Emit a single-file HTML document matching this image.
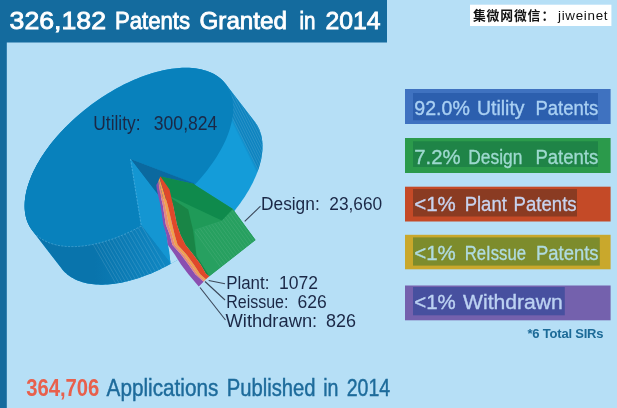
<!DOCTYPE html>
<html lang="en"><head><meta charset="utf-8"><title>326,182 Patents Granted in 2014</title>
<style>
html,body{margin:0;padding:0;background:#b6dff6;}
body{width:617px;height:408px;overflow:hidden;}
svg{display:block;font-family:"Liberation Sans","Noto Sans CJK SC",sans-serif;}
</style></head><body>
<svg width="617" height="408" viewBox="0 0 617 408">
<rect x="0" y="0" width="617" height="408" fill="#b6dff6"/>
<rect x="0" y="0" width="6.8" height="408" fill="#146b9e"/>
<rect x="0" y="0" width="387" height="42.5" fill="#146b9e"/>
<text y="29.3" font-size="24.2" fill="#ffffff" font-weight="normal" stroke="#ffffff" stroke-width="0.85"><tspan x="9.6" textLength="96.4" lengthAdjust="spacingAndGlyphs">326,182</tspan> <tspan x="115" textLength="75" lengthAdjust="spacingAndGlyphs">Patents</tspan> <tspan x="199.5" textLength="87.5" lengthAdjust="spacingAndGlyphs">Granted</tspan> <tspan x="299.5" textLength="16.0" lengthAdjust="spacingAndGlyphs">in</tspan> <tspan x="325.5" textLength="55.0" lengthAdjust="spacingAndGlyphs">2014</tspan></text>
<rect x="470" y="4.7" width="141.4" height="21.3" fill="#ffffff"/>
<text y="20.1" font-size="12.8" font-weight="700" fill="#111111"><tspan x="472.9" textLength="67.5" lengthAdjust="spacing">集微网微信</tspan><tspan x="541.5">：</tspan><tspan x="558" y="19.6" font-size="13.4" font-weight="normal" textLength="49.5" lengthAdjust="spacing">jiweinet</tspan></text>
<defs><clipPath id="cs"><path d="M24.63,205.11 L24.69,203.12 L24.83,201.09 L25.03,199.04 L25.31,196.96 L25.66,194.84 L26.08,192.71 L26.57,190.55 L27.13,188.36 L27.76,186.16 L28.46,183.93 L29.23,181.69 L30.07,179.43 L30.97,177.15 L31.94,174.86 L32.98,172.56 L34.08,170.25 L35.25,167.93 L36.48,165.60 L37.78,163.27 L39.14,160.93 L40.56,158.59 L42.04,156.25 L43.58,153.91 L45.18,151.57 L46.83,149.23 L48.54,146.90 L50.31,144.58 L52.13,142.27 L54.01,139.96 L55.93,137.67 L57.91,135.39 L59.93,133.13 L62.00,130.88 L64.12,128.66 L66.28,126.45 L68.48,124.26 L70.73,122.09 L73.01,119.95 L75.34,117.84 L77.70,115.75 L80.09,113.69 L82.52,111.66 L84.98,109.66 L87.47,107.69 L89.99,105.76 L92.54,103.86 L95.11,102.00 L97.70,100.17 L100.32,98.39 L102.95,96.65 L105.61,94.94 L108.28,93.28 L110.96,91.67 L113.65,90.10 L116.36,88.57 L119.07,87.09 L121.79,85.66 L124.52,84.28 L127.25,82.95 L129.98,81.67 L132.71,80.44 L135.43,79.27 L138.16,78.14 L140.87,77.08 L143.58,76.06 L146.28,75.11 L148.96,74.20 L151.63,73.36 L154.29,72.57 L156.93,71.84 L159.55,71.17 L162.15,70.56 L164.72,70.01 L167.27,69.52 L169.80,69.09 L172.30,68.71 L174.76,68.40 L177.20,68.15 L179.60,67.96 L181.97,67.83 L184.30,67.77 L186.59,67.76 L188.85,67.82 L191.06,67.93 L193.23,68.11 L195.36,68.35 L197.44,68.65 L199.47,69.01 L201.46,69.43 L203.39,69.91 L205.28,70.45 L207.11,71.06 L208.89,71.71 L210.61,72.43 L212.28,73.21 L213.89,74.04 L215.44,74.93 L216.94,75.88 L218.37,76.88 L219.74,77.94 L221.05,79.05 L222.30,80.22 L223.48,81.44 L224.60,82.71 L225.65,84.03 L254.95,122.03 L255.93,123.40 L256.85,124.82 L257.70,126.29 L258.48,127.81 L259.20,129.37 L259.84,130.98 L260.42,132.63 L260.92,134.33 L261.36,136.06 L261.72,137.84 L262.01,139.65 L262.23,141.51 L262.39,143.40 L262.46,145.33 L262.47,147.29 L262.41,149.28 L262.27,151.31 L262.07,153.36 L261.79,155.44 L261.44,157.56 L261.02,159.69 L260.53,161.85 L259.97,164.04 L259.34,166.24 L258.64,168.47 L257.87,170.71 L257.03,172.97 L256.13,175.25 L255.16,177.54 L254.12,179.84 L253.02,182.15 L251.85,184.47 L250.62,186.80 L249.32,189.13 L247.96,191.47 L246.54,193.81 L245.06,196.15 L243.52,198.49 L241.92,200.83 L240.27,203.17 L238.56,205.50 L236.79,207.82 L234.97,210.13 L233.09,212.44 L231.17,214.73 L229.19,217.01 L227.17,219.27 L225.10,221.52 L222.98,223.74 L220.82,225.95 L218.62,228.14 L216.37,230.31 L214.09,232.45 L211.76,234.56 L209.40,236.65 L207.01,238.71 L204.58,240.74 L202.12,242.74 L199.63,244.71 L197.11,246.64 L194.56,248.54 L191.99,250.40 L189.40,252.23 L186.78,254.01 L184.15,255.75 L181.49,257.46 L178.82,259.12 L176.14,260.73 L173.45,262.30 L170.74,263.83 L168.03,265.31 L165.31,266.74 L162.58,268.12 L159.85,269.45 L157.12,270.73 L154.39,271.96 L151.67,273.13 L148.94,274.26 L146.23,275.32 L143.52,276.34 L140.82,277.29 L138.14,278.20 L135.47,279.04 L132.81,279.83 L130.17,280.56 L127.55,281.23 L124.95,281.84 L122.38,282.39 L119.83,282.88 L117.30,283.31 L114.80,283.69 L112.34,284.00 L109.90,284.25 L107.50,284.44 L105.13,284.57 L102.80,284.63 L100.51,284.64 L98.25,284.58 L96.04,284.47 L93.87,284.29 L91.74,284.05 L89.66,283.75 L87.63,283.39 L85.64,282.97 L83.71,282.49 L81.82,281.95 L79.99,281.34 L78.21,280.69 L76.49,279.97 L74.82,279.19 L73.21,278.36 L71.66,277.47 L70.16,276.52 L68.73,275.52 L67.36,274.46 L66.05,273.35 L64.80,272.18 L63.62,270.96 L62.50,269.69 L61.45,268.37 L32.15,230.37 L31.17,229.00 L30.25,227.58 L29.40,226.11 L28.62,224.59 L27.90,223.03 L27.26,221.42 L26.68,219.77 L26.18,218.07 L25.74,216.34 L25.38,214.56 L25.09,212.75 L24.87,210.89 L24.71,209.00 L24.64,207.07Z"/></clipPath><clipPath id="cb"><path d="M-152.0,-155.7 L434.0,604.3 L-500,700 L-500,-300Z"/></clipPath><clipPath id="cg"><path d="M232.80,208.90 L255.50,240.00 L209.30,276.30 L196.50,256.00 L194.40,229.50 L221.80,220.60Z"/></clipPath><linearGradient id="gb" gradientUnits="userSpaceOnUse" x1="95" y1="0" x2="172" y2="0"><stop offset="0" stop-color="#0974ac"/><stop offset="1" stop-color="#1088c4"/></linearGradient><linearGradient id="gw" gradientUnits="userSpaceOnUse" x1="228.2" y1="115.1" x2="232.7" y2="112.9"><stop offset="0" stop-color="#0e84c0" stop-opacity="0"/><stop offset="0.7" stop-color="#0e84c0" stop-opacity="1"/></linearGradient></defs>
<path d="M24.63,205.11 L24.69,203.12 L24.83,201.09 L25.03,199.04 L25.31,196.96 L25.66,194.84 L26.08,192.71 L26.57,190.55 L27.13,188.36 L27.76,186.16 L28.46,183.93 L29.23,181.69 L30.07,179.43 L30.97,177.15 L31.94,174.86 L32.98,172.56 L34.08,170.25 L35.25,167.93 L36.48,165.60 L37.78,163.27 L39.14,160.93 L40.56,158.59 L42.04,156.25 L43.58,153.91 L45.18,151.57 L46.83,149.23 L48.54,146.90 L50.31,144.58 L52.13,142.27 L54.01,139.96 L55.93,137.67 L57.91,135.39 L59.93,133.13 L62.00,130.88 L64.12,128.66 L66.28,126.45 L68.48,124.26 L70.73,122.09 L73.01,119.95 L75.34,117.84 L77.70,115.75 L80.09,113.69 L82.52,111.66 L84.98,109.66 L87.47,107.69 L89.99,105.76 L92.54,103.86 L95.11,102.00 L97.70,100.17 L100.32,98.39 L102.95,96.65 L105.61,94.94 L108.28,93.28 L110.96,91.67 L113.65,90.10 L116.36,88.57 L119.07,87.09 L121.79,85.66 L124.52,84.28 L127.25,82.95 L129.98,81.67 L132.71,80.44 L135.43,79.27 L138.16,78.14 L140.87,77.08 L143.58,76.06 L146.28,75.11 L148.96,74.20 L151.63,73.36 L154.29,72.57 L156.93,71.84 L159.55,71.17 L162.15,70.56 L164.72,70.01 L167.27,69.52 L169.80,69.09 L172.30,68.71 L174.76,68.40 L177.20,68.15 L179.60,67.96 L181.97,67.83 L184.30,67.77 L186.59,67.76 L188.85,67.82 L191.06,67.93 L193.23,68.11 L195.36,68.35 L197.44,68.65 L199.47,69.01 L201.46,69.43 L203.39,69.91 L205.28,70.45 L207.11,71.06 L208.89,71.71 L210.61,72.43 L212.28,73.21 L213.89,74.04 L215.44,74.93 L216.94,75.88 L218.37,76.88 L219.74,77.94 L221.05,79.05 L222.30,80.22 L223.48,81.44 L224.60,82.71 L225.65,84.03 L254.95,122.03 L255.93,123.40 L256.85,124.82 L257.70,126.29 L258.48,127.81 L259.20,129.37 L259.84,130.98 L260.42,132.63 L260.92,134.33 L261.36,136.06 L261.72,137.84 L262.01,139.65 L262.23,141.51 L262.39,143.40 L262.46,145.33 L262.47,147.29 L262.41,149.28 L262.27,151.31 L262.07,153.36 L261.79,155.44 L261.44,157.56 L261.02,159.69 L260.53,161.85 L259.97,164.04 L259.34,166.24 L258.64,168.47 L257.87,170.71 L257.03,172.97 L256.13,175.25 L255.16,177.54 L254.12,179.84 L253.02,182.15 L251.85,184.47 L250.62,186.80 L249.32,189.13 L247.96,191.47 L246.54,193.81 L245.06,196.15 L243.52,198.49 L241.92,200.83 L240.27,203.17 L238.56,205.50 L236.79,207.82 L234.97,210.13 L233.09,212.44 L231.17,214.73 L229.19,217.01 L227.17,219.27 L225.10,221.52 L222.98,223.74 L220.82,225.95 L218.62,228.14 L216.37,230.31 L214.09,232.45 L211.76,234.56 L209.40,236.65 L207.01,238.71 L204.58,240.74 L202.12,242.74 L199.63,244.71 L197.11,246.64 L194.56,248.54 L191.99,250.40 L189.40,252.23 L186.78,254.01 L184.15,255.75 L181.49,257.46 L178.82,259.12 L176.14,260.73 L173.45,262.30 L170.74,263.83 L168.03,265.31 L165.31,266.74 L162.58,268.12 L159.85,269.45 L157.12,270.73 L154.39,271.96 L151.67,273.13 L148.94,274.26 L146.23,275.32 L143.52,276.34 L140.82,277.29 L138.14,278.20 L135.47,279.04 L132.81,279.83 L130.17,280.56 L127.55,281.23 L124.95,281.84 L122.38,282.39 L119.83,282.88 L117.30,283.31 L114.80,283.69 L112.34,284.00 L109.90,284.25 L107.50,284.44 L105.13,284.57 L102.80,284.63 L100.51,284.64 L98.25,284.58 L96.04,284.47 L93.87,284.29 L91.74,284.05 L89.66,283.75 L87.63,283.39 L85.64,282.97 L83.71,282.49 L81.82,281.95 L79.99,281.34 L78.21,280.69 L76.49,279.97 L74.82,279.19 L73.21,278.36 L71.66,277.47 L70.16,276.52 L68.73,275.52 L67.36,274.46 L66.05,273.35 L64.80,272.18 L63.62,270.96 L62.50,269.69 L61.45,268.37 L32.15,230.37 L31.17,229.00 L30.25,227.58 L29.40,226.11 L28.62,224.59 L27.90,223.03 L27.26,221.42 L26.68,219.77 L26.18,218.07 L25.74,216.34 L25.38,214.56 L25.09,212.75 L24.87,210.89 L24.71,209.00 L24.64,207.07Z" fill="#149cd9"/>
<path d="M24.63,205.11 L24.69,203.12 L24.83,201.09 L25.03,199.04 L25.31,196.96 L25.66,194.84 L26.08,192.71 L26.57,190.55 L27.13,188.36 L27.76,186.16 L28.46,183.93 L29.23,181.69 L30.07,179.43 L30.97,177.15 L31.94,174.86 L32.98,172.56 L34.08,170.25 L35.25,167.93 L36.48,165.60 L37.78,163.27 L39.14,160.93 L40.56,158.59 L42.04,156.25 L43.58,153.91 L45.18,151.57 L46.83,149.23 L48.54,146.90 L50.31,144.58 L52.13,142.27 L54.01,139.96 L55.93,137.67 L57.91,135.39 L59.93,133.13 L62.00,130.88 L64.12,128.66 L66.28,126.45 L68.48,124.26 L70.73,122.09 L73.01,119.95 L75.34,117.84 L77.70,115.75 L80.09,113.69 L82.52,111.66 L84.98,109.66 L87.47,107.69 L89.99,105.76 L92.54,103.86 L95.11,102.00 L97.70,100.17 L100.32,98.39 L102.95,96.65 L105.61,94.94 L108.28,93.28 L110.96,91.67 L113.65,90.10 L116.36,88.57 L119.07,87.09 L121.79,85.66 L124.52,84.28 L127.25,82.95 L129.98,81.67 L132.71,80.44 L135.43,79.27 L138.16,78.14 L140.87,77.08 L143.58,76.06 L146.28,75.11 L148.96,74.20 L151.63,73.36 L154.29,72.57 L156.93,71.84 L159.55,71.17 L162.15,70.56 L164.72,70.01 L167.27,69.52 L169.80,69.09 L172.30,68.71 L174.76,68.40 L177.20,68.15 L179.60,67.96 L181.97,67.83 L184.30,67.77 L186.59,67.76 L188.85,67.82 L191.06,67.93 L193.23,68.11 L195.36,68.35 L197.44,68.65 L199.47,69.01 L201.46,69.43 L203.39,69.91 L205.28,70.45 L207.11,71.06 L208.89,71.71 L210.61,72.43 L212.28,73.21 L213.89,74.04 L215.44,74.93 L216.94,75.88 L218.37,76.88 L219.74,77.94 L221.05,79.05 L222.30,80.22 L223.48,81.44 L224.60,82.71 L225.65,84.03 L254.95,122.03 L255.93,123.40 L256.85,124.82 L257.70,126.29 L258.48,127.81 L259.20,129.37 L259.84,130.98 L260.42,132.63 L260.92,134.33 L261.36,136.06 L261.72,137.84 L262.01,139.65 L262.23,141.51 L262.39,143.40 L262.46,145.33 L262.47,147.29 L262.41,149.28 L262.27,151.31 L262.07,153.36 L261.79,155.44 L261.44,157.56 L261.02,159.69 L260.53,161.85 L259.97,164.04 L259.34,166.24 L258.64,168.47 L257.87,170.71 L257.03,172.97 L256.13,175.25 L255.16,177.54 L254.12,179.84 L253.02,182.15 L251.85,184.47 L250.62,186.80 L249.32,189.13 L247.96,191.47 L246.54,193.81 L245.06,196.15 L243.52,198.49 L241.92,200.83 L240.27,203.17 L238.56,205.50 L236.79,207.82 L234.97,210.13 L233.09,212.44 L231.17,214.73 L229.19,217.01 L227.17,219.27 L225.10,221.52 L222.98,223.74 L220.82,225.95 L218.62,228.14 L216.37,230.31 L214.09,232.45 L211.76,234.56 L209.40,236.65 L207.01,238.71 L204.58,240.74 L202.12,242.74 L199.63,244.71 L197.11,246.64 L194.56,248.54 L191.99,250.40 L189.40,252.23 L186.78,254.01 L184.15,255.75 L181.49,257.46 L178.82,259.12 L176.14,260.73 L173.45,262.30 L170.74,263.83 L168.03,265.31 L165.31,266.74 L162.58,268.12 L159.85,269.45 L157.12,270.73 L154.39,271.96 L151.67,273.13 L148.94,274.26 L146.23,275.32 L143.52,276.34 L140.82,277.29 L138.14,278.20 L135.47,279.04 L132.81,279.83 L130.17,280.56 L127.55,281.23 L124.95,281.84 L122.38,282.39 L119.83,282.88 L117.30,283.31 L114.80,283.69 L112.34,284.00 L109.90,284.25 L107.50,284.44 L105.13,284.57 L102.80,284.63 L100.51,284.64 L98.25,284.58 L96.04,284.47 L93.87,284.29 L91.74,284.05 L89.66,283.75 L87.63,283.39 L85.64,282.97 L83.71,282.49 L81.82,281.95 L79.99,281.34 L78.21,280.69 L76.49,279.97 L74.82,279.19 L73.21,278.36 L71.66,277.47 L70.16,276.52 L68.73,275.52 L67.36,274.46 L66.05,273.35 L64.80,272.18 L63.62,270.96 L62.50,269.69 L61.45,268.37 L32.15,230.37 L31.17,229.00 L30.25,227.58 L29.40,226.11 L28.62,224.59 L27.90,223.03 L27.26,221.42 L26.68,219.77 L26.18,218.07 L25.74,216.34 L25.38,214.56 L25.09,212.75 L24.87,210.89 L24.71,209.00 L24.64,207.07Z" fill="url(#gw)"/>
<g clip-path="url(#cs)"><path d="M208.4,70.0 l53.6,107.3 M211.0,70.0 l53.6,107.3 M213.6,70.0 l53.6,107.3 M216.1,70.0 l53.6,107.3 M218.7,70.0 l53.6,107.3 M221.3,70.0 l53.6,107.3 M223.9,70.0 l53.6,107.3 M226.4,70.0 l53.6,107.3 M229.0,70.0 l53.6,107.3 M231.6,70.0 l53.6,107.3" stroke="#ffffff" stroke-opacity="0.2" stroke-width="0.6" fill="none"/></g>
<path d="M24.63,205.11 L24.69,203.12 L24.83,201.09 L25.03,199.04 L25.31,196.96 L25.66,194.84 L26.08,192.71 L26.57,190.55 L27.13,188.36 L27.76,186.16 L28.46,183.93 L29.23,181.69 L30.07,179.43 L30.97,177.15 L31.94,174.86 L32.98,172.56 L34.08,170.25 L35.25,167.93 L36.48,165.60 L37.78,163.27 L39.14,160.93 L40.56,158.59 L42.04,156.25 L43.58,153.91 L45.18,151.57 L46.83,149.23 L48.54,146.90 L50.31,144.58 L52.13,142.27 L54.01,139.96 L55.93,137.67 L57.91,135.39 L59.93,133.13 L62.00,130.88 L64.12,128.66 L66.28,126.45 L68.48,124.26 L70.73,122.09 L73.01,119.95 L75.34,117.84 L77.70,115.75 L80.09,113.69 L82.52,111.66 L84.98,109.66 L87.47,107.69 L89.99,105.76 L92.54,103.86 L95.11,102.00 L97.70,100.17 L100.32,98.39 L102.95,96.65 L105.61,94.94 L108.28,93.28 L110.96,91.67 L113.65,90.10 L116.36,88.57 L119.07,87.09 L121.79,85.66 L124.52,84.28 L127.25,82.95 L129.98,81.67 L132.71,80.44 L135.43,79.27 L138.16,78.14 L140.87,77.08 L143.58,76.06 L146.28,75.11 L148.96,74.20 L151.63,73.36 L154.29,72.57 L156.93,71.84 L159.55,71.17 L162.15,70.56 L164.72,70.01 L167.27,69.52 L169.80,69.09 L172.30,68.71 L174.76,68.40 L177.20,68.15 L179.60,67.96 L181.97,67.83 L184.30,67.77 L186.59,67.76 L188.85,67.82 L191.06,67.93 L193.23,68.11 L195.36,68.35 L197.44,68.65 L199.47,69.01 L201.46,69.43 L203.39,69.91 L205.28,70.45 L207.11,71.06 L208.89,71.71 L210.61,72.43 L212.28,73.21 L213.89,74.04 L215.44,74.93 L216.94,75.88 L218.37,76.88 L219.74,77.94 L221.05,79.05 L222.30,80.22 L223.48,81.44 L224.60,82.71 L225.65,84.03 L254.95,122.03 L255.93,123.40 L256.85,124.82 L257.70,126.29 L258.48,127.81 L259.20,129.37 L259.84,130.98 L260.42,132.63 L260.92,134.33 L261.36,136.06 L261.72,137.84 L262.01,139.65 L262.23,141.51 L262.39,143.40 L262.46,145.33 L262.47,147.29 L262.41,149.28 L262.27,151.31 L262.07,153.36 L261.79,155.44 L261.44,157.56 L261.02,159.69 L260.53,161.85 L259.97,164.04 L259.34,166.24 L258.64,168.47 L257.87,170.71 L257.03,172.97 L256.13,175.25 L255.16,177.54 L254.12,179.84 L253.02,182.15 L251.85,184.47 L250.62,186.80 L249.32,189.13 L247.96,191.47 L246.54,193.81 L245.06,196.15 L243.52,198.49 L241.92,200.83 L240.27,203.17 L238.56,205.50 L236.79,207.82 L234.97,210.13 L233.09,212.44 L231.17,214.73 L229.19,217.01 L227.17,219.27 L225.10,221.52 L222.98,223.74 L220.82,225.95 L218.62,228.14 L216.37,230.31 L214.09,232.45 L211.76,234.56 L209.40,236.65 L207.01,238.71 L204.58,240.74 L202.12,242.74 L199.63,244.71 L197.11,246.64 L194.56,248.54 L191.99,250.40 L189.40,252.23 L186.78,254.01 L184.15,255.75 L181.49,257.46 L178.82,259.12 L176.14,260.73 L173.45,262.30 L170.74,263.83 L168.03,265.31 L165.31,266.74 L162.58,268.12 L159.85,269.45 L157.12,270.73 L154.39,271.96 L151.67,273.13 L148.94,274.26 L146.23,275.32 L143.52,276.34 L140.82,277.29 L138.14,278.20 L135.47,279.04 L132.81,279.83 L130.17,280.56 L127.55,281.23 L124.95,281.84 L122.38,282.39 L119.83,282.88 L117.30,283.31 L114.80,283.69 L112.34,284.00 L109.90,284.25 L107.50,284.44 L105.13,284.57 L102.80,284.63 L100.51,284.64 L98.25,284.58 L96.04,284.47 L93.87,284.29 L91.74,284.05 L89.66,283.75 L87.63,283.39 L85.64,282.97 L83.71,282.49 L81.82,281.95 L79.99,281.34 L78.21,280.69 L76.49,279.97 L74.82,279.19 L73.21,278.36 L71.66,277.47 L70.16,276.52 L68.73,275.52 L67.36,274.46 L66.05,273.35 L64.80,272.18 L63.62,270.96 L62.50,269.69 L61.45,268.37 L32.15,230.37 L31.17,229.00 L30.25,227.58 L29.40,226.11 L28.62,224.59 L27.90,223.03 L27.26,221.42 L26.68,219.77 L26.18,218.07 L25.74,216.34 L25.38,214.56 L25.09,212.75 L24.87,210.89 L24.71,209.00 L24.64,207.07Z" fill="url(#gb)" clip-path="url(#cb)"/>
<g clip-path="url(#cb)"><g clip-path="url(#cs)"><path d="M141.4,225.8 l32,55 M138.2,227.6 l32,55 M134.9,229.3 l32,55 M131.6,230.9 l32,55 M128.4,232.5 l32,55 M125.1,234.0 l32,55 M121.8,235.4 l32,55 M118.6,236.7 l32,55 M115.3,237.9 l32,55 M112.1,239.1 l32,55 M108.8,240.2 l32,55 M105.6,241.2 l32,55 M102.5,242.1 l32,55 M99.3,243.0 l32,55 M96.2,243.7 l32,55 M93.1,244.4 l32,55" stroke="#ffffff" stroke-opacity="0.2" stroke-width="0.6" fill="none"/></g></g>
<path d="M159.80,197.00 L170.74,263.83 L172.21,263.01 L173.68,262.17 L175.15,261.32 L176.61,260.45 L178.07,259.58 L179.53,258.69 L180.98,257.78 L182.42,256.87 L183.87,255.94 L185.30,255.00 L186.73,254.04 L188.16,253.08 L189.58,252.10 L190.99,251.11 L192.39,250.11 L193.79,249.10 L195.18,248.08 L196.57,247.05 L197.94,246.01 L199.31,244.95 L200.67,243.89 L202.02,242.82 L203.37,241.74 L204.70,240.64 L206.02,239.54 L207.34,238.43 L208.64,237.31 L209.94,236.19 L211.22,235.05 L212.49,233.91 L213.75,232.75 L215.00,231.60 L216.24,230.43 L217.47,229.25 L218.69,228.07 L219.89,226.89 L221.08,225.69 L222.26,224.49 L223.42,223.29 L224.57,222.07Z" fill="#b6dff6"/>
<path d="M130.50,159.00 L141.44,225.83 L138.48,227.44 L135.51,228.99 L132.53,230.49 L129.56,231.92 L126.58,233.30 L123.60,234.61 L120.63,235.86 L117.66,237.04 L114.70,238.16 L111.76,239.21 L108.83,240.20 L105.91,241.12 L103.02,241.97 L100.14,242.75 L97.29,243.46 L94.47,244.10 L91.67,244.67 L88.90,245.17 L86.17,245.59 L83.47,245.95 L80.80,246.23 L78.18,246.44 L75.60,246.58 L73.06,246.64 L70.57,246.63 L68.12,246.55 L65.73,246.39 L63.38,246.16 L61.09,245.86 L58.86,245.49 L56.68,245.04 L54.56,244.53 L52.50,243.94 L50.50,243.28 L48.57,242.55 L46.71,241.75 L44.91,240.88 L43.18,239.95 L41.51,238.94 L39.93,237.87 L38.41,236.74 L36.96,235.54 L35.60,234.27 L34.30,232.94 L33.09,231.55 L31.95,230.10 L30.90,228.59 L29.92,227.02 L29.02,225.40 L28.21,223.72 L27.47,221.98 L26.82,220.19 L26.26,218.35 L25.77,216.47 L25.37,214.53 L25.06,212.54 L24.83,210.51 L24.68,208.44 L24.62,206.32 L24.65,204.17 L24.76,201.98 L24.96,199.75 L25.24,197.48 L25.60,195.18 L26.05,192.86 L26.58,190.50 L27.20,188.11 L27.90,185.70 L28.68,183.27 L29.54,180.81 L30.49,178.34 L31.51,175.85 L32.62,173.34 L33.80,170.82 L35.06,168.29 L36.40,165.75 L37.81,163.21 L39.30,160.65 L40.86,158.10 L42.49,155.54 L44.20,152.99 L45.97,150.44 L47.81,147.90 L49.71,145.36 L51.68,142.83 L53.72,140.31 L55.81,137.81 L57.97,135.33 L60.18,132.86 L62.45,130.41 L64.77,127.98 L67.14,125.58 L69.57,123.20 L72.04,120.85 L74.56,118.53 L77.13,116.25 L79.73,113.99 L82.38,111.77 L85.07,109.59 L87.79,107.45 L90.54,105.34 L93.33,103.28 L96.14,101.27 L98.98,99.29 L101.85,97.37 L104.74,95.50 L107.64,93.67 L110.57,91.90 L113.51,90.18 L116.46,88.51 L119.42,86.91 L122.39,85.36 L125.37,83.86 L128.35,82.43 L131.33,81.06 L134.30,79.75 L137.28,78.50 L140.24,77.32 L143.20,76.20 L146.14,75.15 L149.07,74.17 L151.99,73.25 L154.88,72.40 L157.76,71.63 L160.61,70.92 L163.43,70.28 L166.23,69.71 L168.99,69.22 L171.73,68.79 L174.43,68.44 L177.09,68.16 L179.71,67.95 L182.29,67.82 L184.83,67.76 L187.32,67.77 L189.76,67.86 L192.15,68.02 L194.50,68.25 L196.79,68.55 L199.02,68.92 L201.20,69.37 L203.31,69.89 L205.37,70.48 L207.36,71.14 L209.29,71.88 L211.16,72.68 L212.95,73.55 L214.68,74.49 L216.34,75.49 L217.93,76.56 L219.44,77.70 L220.88,78.91 L222.25,80.17 L223.54,81.50 L224.75,82.90 L225.88,84.35 L226.94,85.86 L227.91,87.43 L228.81,89.06 L229.62,90.74 L230.35,92.48 L231.00,94.27 L231.56,96.11 L232.04,98.00 L232.44,99.94 L232.75,101.93 L232.98,103.96 L233.12,106.03 L233.18,108.15 L233.15,110.31 L233.03,112.50 L232.84,114.73 L232.55,117.00 L232.19,119.30 L231.73,121.63 L231.20,123.98 L230.58,126.37 L229.88,128.78 L229.09,131.22 L228.22,133.67 L227.28,136.15 L226.25,138.64 L225.14,141.14 L223.96,143.66 L222.69,146.19 L221.35,148.73 L219.94,151.28 L218.45,153.83 L216.88,156.39 L215.25,158.94 L213.54,161.50 L211.77,164.05 L209.93,166.59 L208.02,169.13 L206.05,171.66 L204.01,174.17 L201.92,176.67 L199.76,179.16 L197.54,181.63 L195.27,184.07Z" fill="#0881bc"/>
<path d="M130.50,159.00 L194.00,183.25 L223.30,221.25 L159.80,197.00Z" fill="#0b699f"/>
<path d="M130.50,159.00 L141.00,224.30 L170.30,262.30 L169.30,252.00 L168.00,244.80 L166.60,235.00 L163.50,224.60 L160.60,205.00 L158.80,197.00Z" fill="#1496d2"/>
<path d="M130.5,159 L141,224.3 L141.4,225.8 L139.9,226.7 L138.3,227.6 L136.7,228.4 L135.1,229.2 L133.5,230.0 L131.9,230.8 L130.3,231.6 L128.7,232.3 L127.1,233.1 L125.5,233.8 L123.9,234.5 L122.3,235.2 L120.7,235.8 L119.1,236.5 L117.5,237.1 L116.0,237.7 L114.4,238.3 L112.8,238.9 L111.2,239.4 L109.6,239.9 L108.1,240.4 L106.5,240.9 L105.0,241.4 L103.4,241.9 L101.9,242.3 L100.3,242.7 L98.8,243.1 L97.3,243.5 L95.7,243.8 L94.2,244.1 L92.7,244.5 L91.2,244.8 L89.8,245.0 L88.3,245.3 L86.8,245.5 L85.4,245.7 L83.9,245.9 L82.5,246.1 L81.0,246.2 L79.6,246.3 L78.2,246.4 L76.8,246.5 L75.5,246.6 L74.1,246.6 L72.7,246.6 L71.4,246.6 L70.1,246.6 L68.8,246.6 L67.5,246.5 L66.2,246.4 L64.9,246.3 L63.7,246.2 L62.4,246.0 L61.2,245.9 L60.0,245.7 L58.8,245.5 L57.6,245.3 L56.5,245.0 L55.3,244.7 L54.2,244.4 L53.1,244.1 L52.0,243.8 L51.0,243.4 L49.9,243.1 L48.9,242.7 L47.9,242.3 L46.9,241.8 L45.9,241.4 L44.9,240.9 L44.0,240.4 L43.1,239.9 L42.2,239.4 L41.3,238.8 L40.4,238.2 L39.6,237.6 L38.8,237.0 L38.0,236.4 L37.2,235.8 L36.5,235.1 L35.7,234.4" stroke="#9fd8f5" stroke-opacity="0.55" stroke-width="0.6" stroke-dasharray="2.2 1.2" fill="none"/>
<path d="M160.50,176.50 L193.00,183.80 L232.80,208.90 L255.50,240.00 L209.30,276.30 L205.80,273.50 L200.70,264.40 L193.30,254.60 L185.50,244.80 L180.60,235.00 L177.00,224.60 L173.10,205.00 L169.50,189.60Z" fill="#1f9a58"/>
<path d="M232.80,208.90 L255.50,240.00 L209.30,276.30 L196.50,256.00 L194.40,229.50 L221.80,220.60Z" fill="#27a060"/>
<g clip-path="url(#cg)"><path d="M194.4,231.0 l34,47 M197.0,229.4 l34,47 M199.5,227.8 l34,47 M202.1,226.2 l34,47 M204.7,224.6 l34,47 M207.3,223.0 l34,47 M209.8,221.4 l34,47 M212.4,219.8 l34,47 M215.0,218.2 l34,47 M217.6,216.6 l34,47 M220.1,215.0 l34,47 M222.7,213.4 l34,47 M225.3,211.8 l34,47 M227.9,210.2 l34,47 M230.4,208.6 l34,47 M233.0,207.0 l34,47" stroke="#ffffff" stroke-opacity="0.13" stroke-width="0.6" fill="none"/></g>
<path d="M169.50,197.00 L188.20,209.60 L193.00,230.00 L196.50,256.00 L209.30,276.30 L205.80,273.50 L200.70,264.40 L193.30,254.60 L185.50,244.80 L180.60,235.00 L177.00,224.60 L173.10,205.00Z" fill="#198546"/>
<path d="M160.50,176.50 L193.00,183.80 L232.80,208.90 L221.80,220.60 L168.50,195.50Z" fill="#0f8a4c"/>
<path d="M156.30,185.00 L156.80,189.60 L160.40,205.00 L163.30,224.60 L166.40,235.00 L167.80,244.80 L174.70,254.60 L181.00,264.40 L188.40,274.20 L198.75,286.50 L203.60,281.80 L195.30,274.20 L188.40,264.40 L181.00,254.60 L172.30,244.80 L169.80,235.00 L165.80,224.60 L162.80,205.00 L159.20,189.60 L158.30,181.50Z" fill="#8a4fb0"/>
<path d="M158.30,181.50 L159.20,189.60 L162.80,205.00 L165.80,224.60 L169.80,235.00 L172.30,244.80 L181.00,254.60 L188.40,264.40 L195.30,274.20 L203.60,281.80 L204.68,280.68 L197.50,274.20 L190.83,264.40 L183.47,254.60 L174.69,244.80 L172.00,235.00 L168.68,224.60 L165.00,205.00 L160.95,189.60 L158.84,179.93Z" fill="#e8857a"/>
<path d="M158.84,179.93 L160.95,189.60 L165.00,205.00 L168.68,224.60 L172.00,235.00 L174.69,244.80 L183.47,254.60 L190.83,264.40 L197.50,274.20 L204.68,280.68 L206.00,279.30 L200.20,274.20 L193.80,264.40 L186.50,254.60 L177.60,244.80 L174.70,235.00 L172.20,224.60 L167.70,205.00 L163.10,189.60 L159.50,178.00Z" fill="#f2a04c"/>
<path d="M159.50,178.00 L163.10,189.60 L167.70,205.00 L172.20,224.60 L174.70,235.00 L177.60,244.80 L186.50,254.60 L193.80,264.40 L200.20,274.20 L206.00,279.30 L209.30,276.30 L205.80,273.50 L200.70,264.40 L193.30,254.60 L185.50,244.80 L180.60,235.00 L177.00,224.60 L173.10,205.00 L169.50,189.60 L160.50,176.50Z" fill="#e0482a"/>
<g stroke="#3a4658" stroke-width="1.1" fill="none"><path d="M260.5,206.2 L244.7,221.3"/><path d="M225,283.7 L208.7,280.5"/><path d="M225,300 L205,281.5"/><path d="M225.5,320 L200,287.5"/></g>
<text y="129.5" font-size="19.6" fill="#1b2846" font-weight="normal"><tspan x="93.3" textLength="47.2" lengthAdjust="spacingAndGlyphs">Utility:</tspan> <tspan x="153.8" textLength="63.6" lengthAdjust="spacingAndGlyphs">300,824</tspan></text>
<text y="210.1" font-size="18.3" fill="#1b2846" font-weight="normal"><tspan x="261" textLength="58.7" lengthAdjust="spacingAndGlyphs">Design:</tspan> <tspan x="329.3" textLength="52.9" lengthAdjust="spacingAndGlyphs">23,660</tspan></text>
<text y="289.0" font-size="18.3" fill="#1b2846" font-weight="normal"><tspan x="226.2" textLength="43.2" lengthAdjust="spacingAndGlyphs">Plant:</tspan> <tspan x="279.0" textLength="39.0" lengthAdjust="spacingAndGlyphs">1072</tspan></text>
<text y="307.6" font-size="18.3" fill="#1b2846" font-weight="normal"><tspan x="226.2" textLength="62.3" lengthAdjust="spacingAndGlyphs">Reissue:</tspan> <tspan x="297.5" textLength="29.3" lengthAdjust="spacingAndGlyphs">626</tspan></text>
<text y="326.8" font-size="18.3" fill="#1b2846" font-weight="normal"><tspan x="225.5" textLength="91.7" lengthAdjust="spacingAndGlyphs">Withdrawn:</tspan> <tspan x="326.0" textLength="30.0" lengthAdjust="spacingAndGlyphs">826</tspan></text>
<rect x="405" y="89" width="205.60000000000002" height="35.0" fill="#3f72c0"/>
<rect x="413" y="93" width="185.0" height="27.3" fill="#2c5fae"/>
<text y="114.7" font-size="20" fill="#a9d0f3" font-weight="normal" stroke="#a9d0f3" stroke-width="0.35"><tspan x="414.3" textLength="55.5" lengthAdjust="spacingAndGlyphs">92.0%</tspan> <tspan x="477" textLength="47.5" lengthAdjust="spacingAndGlyphs">Utility</tspan> <tspan x="535.4" textLength="62.8" lengthAdjust="spacingAndGlyphs">Patents</tspan></text>
<rect x="405" y="138" width="205.60000000000002" height="35.0" fill="#2b9a4b"/>
<rect x="413" y="141.3" width="185.0" height="25.7" fill="#1f8447"/>
<text y="164.0" font-size="20" fill="#9ed9cf" font-weight="normal" stroke="#9ed9cf" stroke-width="0.35"><tspan x="414.3" textLength="46.2" lengthAdjust="spacingAndGlyphs">7.2%</tspan> <tspan x="468.3" textLength="54.1" lengthAdjust="spacingAndGlyphs">Design</tspan> <tspan x="535.4" textLength="62.8" lengthAdjust="spacingAndGlyphs">Patents</tspan></text>
<rect x="405" y="186.7" width="205.60000000000002" height="34.8" fill="#c44a27"/>
<rect x="413" y="189.1" width="164.0" height="27.4" fill="#8a3b22"/>
<text y="211.0" font-size="20" fill="#c8d3ee" font-weight="normal" stroke="#c8d3ee" stroke-width="0.35"><tspan x="414.3" textLength="41.5" lengthAdjust="spacingAndGlyphs">&lt;1%</tspan> <tspan x="464.7" textLength="42.1" lengthAdjust="spacingAndGlyphs">Plant</tspan> <tspan x="513.6" textLength="63.0" lengthAdjust="spacingAndGlyphs">Patents</tspan></text>
<rect x="405" y="234.8" width="205.60000000000002" height="34.5" fill="#c9a82c"/>
<rect x="413" y="237.4" width="186.8" height="28.2" fill="#7d8c2c"/>
<text y="260.1" font-size="20" fill="#b0dbe0" font-weight="normal" stroke="#b0dbe0" stroke-width="0.35"><tspan x="414.3" textLength="41.5" lengthAdjust="spacingAndGlyphs">&lt;1%</tspan> <tspan x="464.7" textLength="61.3" lengthAdjust="spacingAndGlyphs">ReIssue</tspan> <tspan x="536" textLength="62.5" lengthAdjust="spacingAndGlyphs">Patents</tspan></text>
<rect x="405" y="285.5" width="205.60000000000002" height="34.8" fill="#7461ad"/>
<rect x="413" y="287" width="151.8" height="28.3" fill="#47509f"/>
<text y="309.0" font-size="20" fill="#bcd2f2" font-weight="normal" stroke="#bcd2f2" stroke-width="0.35"><tspan x="414.3" textLength="41.5" lengthAdjust="spacingAndGlyphs">&lt;1%</tspan> <tspan x="463" textLength="99.8" lengthAdjust="spacingAndGlyphs">Withdrawn</tspan></text>
<text x="527.5" y="337.7" font-size="13" fill="#1c6a97" font-weight="bold" textLength="76" lengthAdjust="spacing">*6 Total SIRs</text>
<text y="396.2" font-size="24.8" fill="#1d6b9b" stroke="#1d6b9b" stroke-width="0.45"><tspan x="26.2" y="396.1" font-size="24" font-weight="bold" fill="#e8604c" stroke="none" textLength="73.2" lengthAdjust="spacingAndGlyphs">364,706</tspan> <tspan y="396.2" x="106.6" textLength="111.8" lengthAdjust="spacingAndGlyphs">Applications</tspan> <tspan x="226.7" textLength="88.9" lengthAdjust="spacingAndGlyphs">Published</tspan> <tspan x="323.2" textLength="15.3" lengthAdjust="spacingAndGlyphs">in</tspan> <tspan x="346.7" textLength="43.5" lengthAdjust="spacingAndGlyphs">2014</tspan></text>
</svg>
</body></html>
